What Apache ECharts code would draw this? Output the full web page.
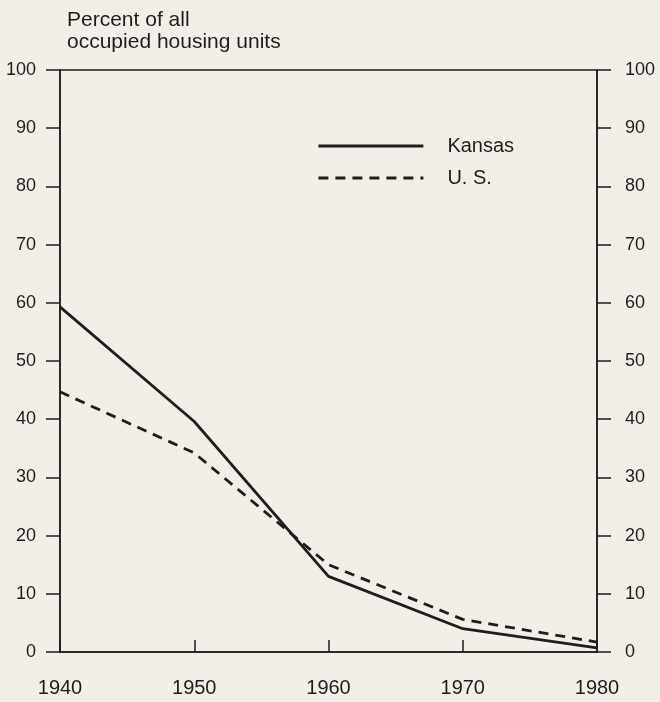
<!DOCTYPE html>
<html>
<head>
<meta charset="utf-8">
<script src="https://cdn.jsdelivr.net/npm/echarts@6/dist/echarts.min.js"></script>
<style>
html,body{margin:0;padding:0;background:#f4eee8;}
#c{width:660px;height:702px;}
</style>
</head>
<body>
<div id="c"></div>
<script>
const years = ['1940','1950','1960','1970','1980'];
const kansas = [59.3, 39.6, 13.0, 4.0, 0.7];
const us = [44.7, 34.2, 15.0, 5.6, 1.7];
const yTicks = [0,10,20,30,40,50,60,70,80,90,100];

const FONT = '"Liberation Sans", Arial, Helvetica, sans-serif';
const INK = '#1e1e1e';

const chart = echarts.init(document.getElementById('c'), null, {renderer:'canvas'});
const yAxisBase = (pos, margin) => ({
  type:'value', position: pos, min: yTicks[0], max: yTicks[yTicks.length-1], interval: 10,
  axisLine:{show:true, lineStyle:{color:INK, width:1.5}},
  axisTick:{show:true, inside:false, length:14, lineStyle:{color:INK, width:1.5}},
  axisLabel:{show:true, margin: margin, color:INK, fontSize:18, fontFamily:FONT},
  splitLine:{show:false}
});
chart.setOption({
  backgroundColor:'#f4eee8',
  animation:false,
  title:{
    text:'Percent of all\noccupied housing units',
    left:62, top:4,
    textStyle:{fontSize:21, fontWeight:'normal', color:INK, fontFamily:FONT, lineHeight:22}
  },
  legend:{
    orient:'vertical', left:312, top:130,
    itemWidth:105, itemHeight:14, itemGap:10,
    itemStyle:{opacity:0, color:'transparent', borderWidth:0},
    lineStyle:{width:2.8},
    textStyle:{fontSize:20, color:INK, fontFamily:FONT, padding:[0,0,0,19], lineHeight:22},
    data:['Kansas','U. S.']
  },
  grid:{left:60, right:63, top:70, bottom:50, show:true, borderColor:INK, borderWidth:1.5, backgroundColor:'transparent'},
  xAxis:{
    type:'category', data:years, boundaryGap:false,
    axisLine:{show:true, lineStyle:{color:INK, width:1.5}},
    axisTick:{show:true, inside:true, length:12, alignWithLabel:true, lineStyle:{color:INK, width:1.5}},
    axisLabel:{margin:26, color:INK, fontSize:20, fontFamily:FONT},
    splitLine:{show:false}
  },
  yAxis:[yAxisBase('left', 24), yAxisBase('right', 28)],
  series:[
    {name:'Kansas', type:'line', data:kansas, symbol:'none', yAxisIndex:0,
     lineStyle:{color:INK, width:2.8, type:'solid'}, itemStyle:{color:INK}},
    {name:'U. S.', type:'line', data:us, symbol:'none', yAxisIndex:0,
     lineStyle:{color:INK, width:2.8, type:[10,7]}, itemStyle:{color:INK}}
  ]
});
</script>
</body>
</html>
